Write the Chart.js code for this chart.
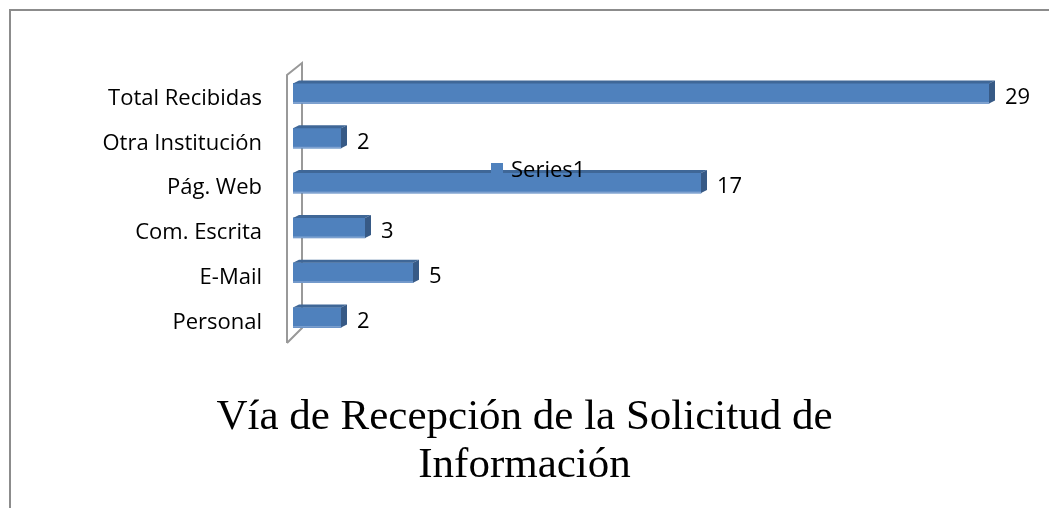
<!DOCTYPE html>
<html>
<head>
<meta charset="utf-8">
<script src="https://cdn.jsdelivr.net/npm/chart.js@4.4.1/dist/chart.umd.min.js"></script>
<style>
  html, body { margin: 0; padding: 0; background: #fff; overflow: hidden; }
  #wrap { position: relative; width: 1049px; height: 508px; }
  #frame { position: absolute; left: 9px; top: 9px; width: 1100px; height: 600px; border: 2px solid #8c8c8c; box-sizing: border-box; }
  canvas { position: absolute; left: 0; top: 0; }
</style>
</head>
<body>
<div id="wrap">
  <div id="frame"></div>
  <canvas id="chart" width="1049" height="508"></canvas>
</div>
<script>
// data, top to bottom as shown
const categories = ['Total Recibidas', 'Otra Institución', 'Pág. Web', 'Com. Escrita', 'E-Mail', 'Personal'];
const series1 = [29, 2, 17, 3, 5, 2];
const seriesName = 'Series1';
const titleLines = ['Vía de Recepción de la Solicitud de', 'Información'];

const DX = 6, DY = 3;
const LABEL_FONT = '22px "Open Sans"';

// gray "wall" behind the bars
const wallPlugin = {
    id: 'wall',
    beforeDatasetsDraw(chart) {
        const { ctx, chartArea: a } = chart;
        ctx.save();
        ctx.strokeStyle = '#999';
        ctx.lineWidth = 2;
        ctx.beginPath();
        ctx.moveTo(a.left - 6, a.bottom + 3);
        ctx.lineTo(a.left - 6, a.top + 4);
        ctx.lineTo(a.left + 9, a.top - 8);
        ctx.lineTo(a.left + 9, a.bottom - 12);
        ctx.lineTo(a.left - 6, a.bottom + 3);
        ctx.stroke();
        ctx.restore();
    }
};

// 3d faces, value labels and the odd floating legend
const barExtras = {
    id: 'barExtras',
    afterDatasetsDraw(chart) {
        const { ctx, chartArea: a } = chart;
        const meta = chart.getDatasetMeta(0);
        ctx.save();
        meta.data.forEach((bar, i) => {
            const top = bar.y - bar.height / 2;
            const bot = bar.y + bar.height / 2;
            const x0 = bar.base, x1 = bar.x;
            // lighter bottom edge of the front face
            ctx.fillStyle = '#7fa2d0';
            ctx.fillRect(x0, bot - 1.5, x1 - x0, 1.5);
            // top face
            ctx.fillStyle = '#3f6797';
            ctx.beginPath();
            ctx.moveTo(x0, top);
            ctx.lineTo(x0 + DX, top - DY);
            ctx.lineTo(x1 + DX, top - DY);
            ctx.lineTo(x1, top);
            ctx.closePath();
            ctx.fill();
            // right face
            ctx.fillStyle = '#375a86';
            ctx.beginPath();
            ctx.moveTo(x1, top);
            ctx.lineTo(x1 + DX, top - DY);
            ctx.lineTo(x1 + DX, bot - DY);
            ctx.lineTo(x1, bot);
            ctx.closePath();
            ctx.fill();
            // value label
            ctx.fillStyle = '#000';
            ctx.font = LABEL_FONT;
            ctx.textAlign = 'left';
            ctx.textBaseline = 'middle';
            ctx.fillText(String(series1[i]), x1 + DX + 10, bar.y + 4);
        });
        // legend
        const lx = a.left + 198, ly = a.top + 92;
        ctx.fillStyle = '#4f81bd';
        ctx.fillRect(lx, ly, 12, 12);
        ctx.fillStyle = '#000';
        ctx.font = LABEL_FONT;
        ctx.textBaseline = 'middle';
        ctx.fillText(chart.data.datasets[0].label, lx + 20, ly + 8);
        ctx.restore();
    }
};

new Chart(document.getElementById('chart'), {
    type: 'bar',
    data: {
        labels: categories,
        datasets: [{
            label: seriesName,
            data: series1,
            backgroundColor: '#4f81bd',
            borderWidth: 0,
            barThickness: 20
        }]
    },
    options: {
        indexAxis: 'y',
        responsive: false,
        animation: false,
        layout: { padding: { top: 71, right: 0, left: 0, bottom: 0 } },
        plugins: {
            legend: { display: false },
            tooltip: { enabled: false },
            title: {
                display: true,
                position: 'bottom',
                text: titleLines,
                color: '#000',
                font: { family: '"Liberation Serif"', size: 43, weight: 'normal', lineHeight: 1.116 },
                padding: { top: 54, bottom: 18 }
            }
        },
        scales: {
            x: { display: false, min: 0, max: 31.5 },
            y: {
                grid: { display: false, drawTicks: false },
                border: { display: false },
                ticks: { color: '#000', font: { family: '"Open Sans"', size: 22 }, padding: 31, labelOffset: 5 },
                afterFit(scale) { scale.width = 293; }
            }
        }
    },
    plugins: [wallPlugin, barExtras]
});
</script>
</body>
</html>
